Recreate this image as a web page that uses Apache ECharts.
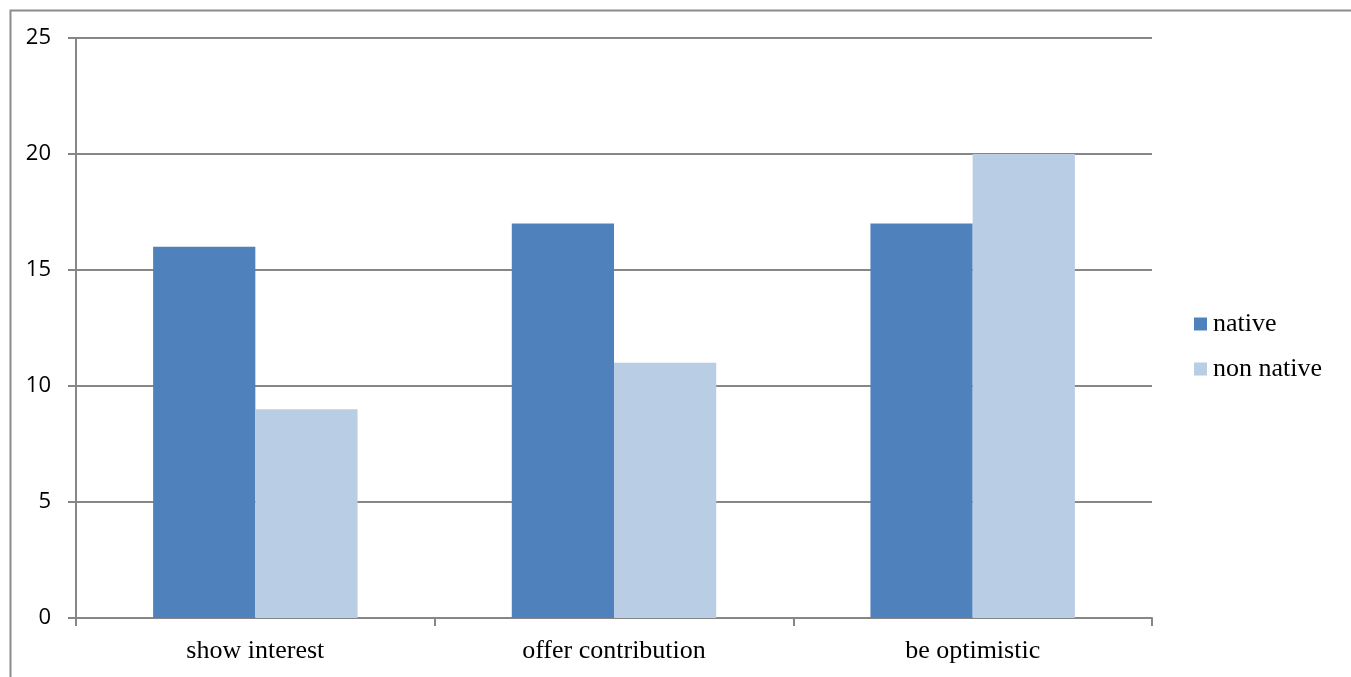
<!DOCTYPE html>
<html><head><meta charset="utf-8">
<script src="https://cdn.jsdelivr.net/npm/echarts@6/dist/echarts.min.js"></script>
<style>html,body{margin:0;padding:0;background:#fff}#c{width:1351px;height:677px}</style>
</head><body><div id="c"></div>
<script>
const categories = ['show interest', 'offer contribution', 'be optimistic'];
const nativeValues = [16, 17, 17];
const nonNativeValues = [9, 11, 20];
const seriesNames = ['native', 'non native'];

const chart = echarts.init(document.getElementById('c'), null, {renderer: 'canvas'});
const gray = '#868686';
chart.setOption({
  animation: false,
  backgroundColor: '#fff',
  graphic: [{
    type: 'rect', left: 8, top: 8, silent: true,
    shape: {width: 1400, height: 700},
    style: {fill: 'none', stroke: '#8c8c8c', lineWidth: 2}
  }],
  grid: {left: 76, right: 199, top: 38, bottom: 59, containLabel: false},
  legend: {
    orient: 'vertical', left: 1194, top: 311, padding: 0,
    itemWidth: 13, itemHeight: 13, itemGap: 19,
    icon: 'rect',
    textStyle: {fontFamily: 'Liberation Serif', fontSize: 26, color: '#000', padding: [0, 0, 0, 1]},
    data: seriesNames
  },
  xAxis: {
    type: 'category', data: categories,
    axisLine: {lineStyle: {color: gray, width: 2}},
    axisTick: {show: true, length: 8, lineStyle: {color: gray, width: 2}, alignWithLabel: false},
    axisLabel: {fontFamily: 'Liberation Serif', fontSize: 26, color: '#000', margin: 20}
  },
  yAxis: {
    type: 'value', min: 0, max: 25, interval: 5,
    axisLine: {show: true, lineStyle: {color: gray, width: 2}},
    axisTick: {show: true, length: 8, lineStyle: {color: gray, width: 2}},
    axisLabel: {fontFamily: 'Open Sans', fontSize: 22, color: '#000', margin: 25},
    splitLine: {lineStyle: {color: gray, width: 2}}
  },
  series: [
    {name: seriesNames[0], type: 'bar', data: nativeValues, barGap: '0%', barCategoryGap: '43%', itemStyle: {color: '#4F81BD'}},
    {name: seriesNames[1], type: 'bar', data: nonNativeValues, itemStyle: {color: '#B9CDE5'}}
  ]
});
</script></body></html>
